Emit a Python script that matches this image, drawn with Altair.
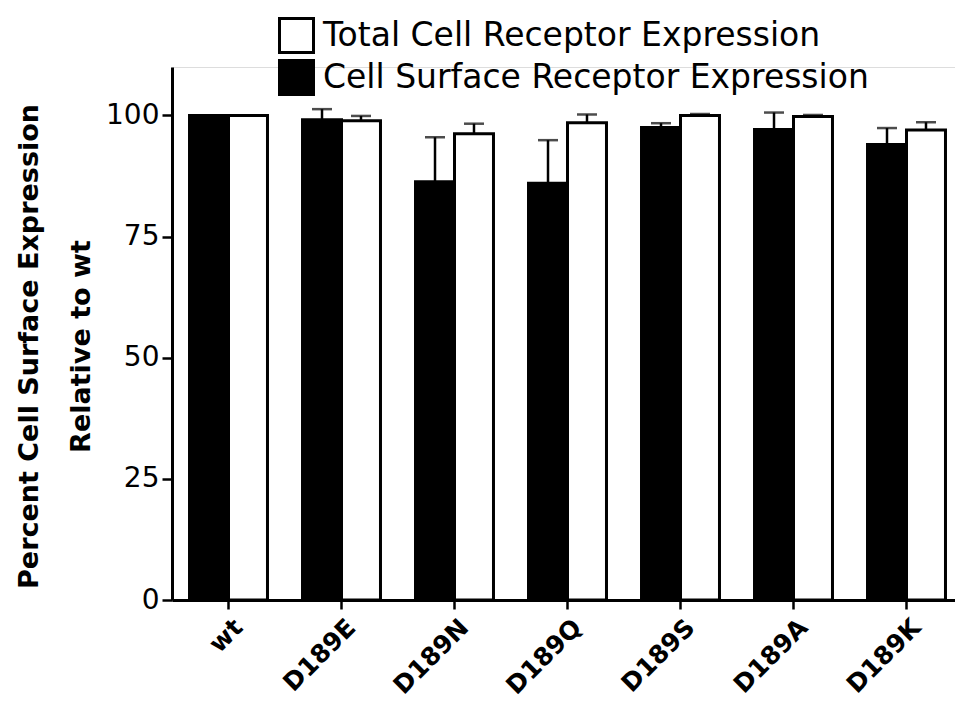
import altair as alt
import pandas as pd

categories = ["wt", "D189E", "D189N", "D189Q", "D189S", "D189A", "D189K"]
series_surface = "Cell Surface Receptor Expression"
series_total = "Total Cell Receptor Expression"
surface_vals = [100.0, 99.1, 86.3, 86.0, 97.5, 97.1, 94.0]
surface_err = [0.0, 2.2, 9.2, 8.9, 0.9, 3.5, 3.4]
total_vals = [100.0, 98.9, 96.2, 98.5, 100.0, 99.8, 97.0]
total_err = [0.0, 1.0, 2.1, 1.7, 0.3, 0.3, 1.6]
y_ticks = [0, 25, 50, 75, 100]

rows = []
for i, c in enumerate(categories):
    rows.append({"cat": c, "series": series_surface, "value": surface_vals[i],
                 "err": surface_err[i], "top": surface_vals[i] + surface_err[i]})
    rows.append({"cat": c, "series": series_total, "value": total_vals[i],
                 "err": total_err[i], "top": total_vals[i] + total_err[i]})
df = pd.DataFrame(rows)

FONT = "DejaVu Sans"

x_enc = alt.X("cat:N", sort=categories,
              scale=alt.Scale(paddingInner=0.31, paddingOuter=0.155, range=[0, 791]),
              axis=alt.Axis(title=None, labelAngle=-45, labelAlign="right", labelBaseline="middle",
                            labelFontSize=25, labelFontWeight="bold", labelPadding=14,
                            labelOffset=10,
                            tickSize=9, tickWidth=2.5, domainWidth=3))
xoff = alt.XOffset("series:N", sort=[series_surface, series_total])
y_scale = alt.Scale(domain=[0, 110], nice=False)

base = alt.Chart(df).encode(x=x_enc, xOffset=xoff)

bars = base.mark_bar(stroke="black", strokeWidth=3).encode(
    y=alt.Y("value:Q", scale=y_scale,
            axis=alt.Axis(values=y_ticks, title=["Percent Cell Surface Expression", "Relative to wt"],
                          titleFontSize=27, titleFontWeight="bold", titleLineHeight=52,
                          titlePadding=10, titleY=279, labelFontSize=28, labelPadding=3,
                          tickSize=10, tickWidth=2.5, domainWidth=3, grid=False)),
    fill=alt.Fill("series:N",
                  scale=alt.Scale(domain=[series_total, series_surface], range=["white", "black"]),
                  legend=alt.Legend(title=None, orient="none", legendX=106, legendY=-50,
                                    symbolType="square", symbolSize=1156, symbolStrokeColor="black",
                                    symbolStrokeWidth=3, labelFontSize=33, labelOffset=8,
                                    rowPadding=-20, padding=0, labelLimit=800)),
)

err_base = base.transform_filter("datum.err > 0")
rules = err_base.mark_rule(color="black", strokeWidth=2.5).encode(
    y=alt.Y("value:Q", scale=y_scale), y2="top:Q")
caps = err_base.mark_tick(color="black", size=20, thickness=2.5).encode(
    y=alt.Y("top:Q", scale=y_scale))

chart = alt.layer(rules, caps, bars).properties(
    width=783, height=533,
    autosize=alt.AutoSizeParams(type="none"),
    padding={"left": 172, "top": 67, "right": 0, "bottom": 102},
).configure_view(stroke=None).configure(font=FONT).configure_axis(
    labelFont=FONT, titleFont=FONT, labelColor="black", titleColor="black",
    domainColor="black", tickColor="black"
).configure_legend(labelFont=FONT, labelColor="black")

chart.save("out.html", embed_options={"renderer": "svg", "actions": False})
